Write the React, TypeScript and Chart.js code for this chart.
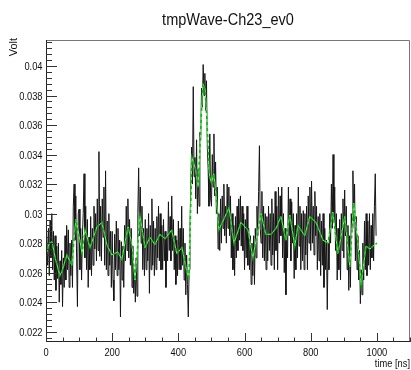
import React, { useEffect, useRef } from "react";
import { Chart, registerables } from "chart.js";

Chart.register(...registerables);

const chartTitle = "tmpWave-Ch23_ev0";
const xAxisTitle = "time [ns]";
const yAxisTitle = "Volt";

const xMin = 0;
const xMax = 1100;
const yMin = 0.021302;
const yMax = 0.041761;

const xMajorTicks = [0, 200, 400, 600, 800, 1000];
const yMajorTicks = [0.022, 0.024, 0.026, 0.028, 0.03, 0.032, 0.034, 0.036, 0.038, 0.04];
const yTickLabels = ["0.022", "0.024", "0.026", "0.028", "0.03", "0.032", "0.034", "0.036", "0.038", "0.04"];

// digitizer sample clock: first sample time and spacing (ns)
const sampleStartNs = 0;
const sampleStepNs = 2.5;

// waveform samples (V), one row = 20 samples = 50 ns
const waveVolt = [
  0.0300, 0.0300, 0.0265, 0.0290, 0.0258, 0.0295, 0.0270, 0.0300, 0.0262, 0.0288, 0.0255, 0.0285, 0.0248, 0.0278, 0.0256, 0.0280, 0.0240, 0.0268, 0.0252, 0.0275,
  0.0237, 0.0270, 0.0250, 0.0285, 0.0255, 0.0292, 0.0262, 0.0289, 0.0250, 0.0280, 0.0258, 0.0282, 0.0250, 0.0305, 0.0320, 0.0282, 0.0312, 0.0270, 0.0237, 0.0300,
  0.0303, 0.0262, 0.0290, 0.0255, 0.0285, 0.0300, 0.0327, 0.0270, 0.0305, 0.0262, 0.0296, 0.0250, 0.0284, 0.0262, 0.0298, 0.0258, 0.0290, 0.0265, 0.0305, 0.0276,
  0.0300, 0.0268, 0.0310, 0.0275, 0.0342, 0.0271, 0.0305, 0.0268, 0.0310, 0.0284, 0.0318, 0.0265, 0.0329, 0.0262, 0.0295, 0.0258, 0.0300, 0.0265, 0.0288, 0.0250,
  0.0288, 0.0255, 0.0241, 0.0286, 0.0262, 0.0295, 0.0258, 0.0290, 0.0262, 0.0282, 0.0230, 0.0281, 0.0255, 0.0278, 0.0250, 0.0292, 0.0268, 0.0305, 0.0275, 0.0310,
  0.0270, 0.0296, 0.0265, 0.0290, 0.0250, 0.0278, 0.0246, 0.0262, 0.0240, 0.0270, 0.0244, 0.0300, 0.0331, 0.0285, 0.0318, 0.0280, 0.0305, 0.0262, 0.0290, 0.0258,
  0.0296, 0.0262, 0.0290, 0.0268, 0.0300, 0.0246, 0.0292, 0.0262, 0.0310, 0.0265, 0.0295, 0.0258, 0.0290, 0.0262, 0.0298, 0.0270, 0.0305, 0.0268, 0.0300, 0.0262,
  0.0292, 0.0262, 0.0296, 0.0268, 0.0288, 0.0250, 0.0285, 0.0268, 0.0308, 0.0275, 0.0298, 0.0268, 0.0312, 0.0275, 0.0296, 0.0262, 0.0285, 0.0252, 0.0282, 0.0258,
  0.0295, 0.0262, 0.0290, 0.0262, 0.0305, 0.0265, 0.0290, 0.0255, 0.0280, 0.0245, 0.0272, 0.0252, 0.0230, 0.0262, 0.0290, 0.0318, 0.0345, 0.0320, 0.0386, 0.0325,
  0.0338, 0.0310, 0.0350, 0.0300, 0.0330, 0.0305, 0.0355, 0.0350, 0.0385, 0.0372, 0.0401, 0.0380, 0.0395, 0.0370, 0.0390, 0.0345, 0.0330, 0.0305, 0.0354, 0.0310,
  0.0305, 0.0340, 0.0318, 0.0354, 0.0312, 0.0335, 0.0300, 0.0318, 0.0276, 0.0300, 0.0275, 0.0310, 0.0280, 0.0312, 0.0290, 0.0320, 0.0285, 0.0305, 0.0280, 0.0320,
  0.0290, 0.0318, 0.0285, 0.0312, 0.0270, 0.0300, 0.0262, 0.0292, 0.0258, 0.0298, 0.0270, 0.0305, 0.0275, 0.0310, 0.0282, 0.0312, 0.0278, 0.0305, 0.0275, 0.0300,
  0.0262, 0.0296, 0.0270, 0.0305, 0.0265, 0.0290, 0.0262, 0.0285, 0.0252, 0.0280, 0.0258, 0.0285, 0.0252, 0.0290, 0.0270, 0.0305, 0.0285, 0.0315, 0.0346, 0.0290,
  0.0280, 0.0315, 0.0270, 0.0305, 0.0268, 0.0300, 0.0262, 0.0298, 0.0268, 0.0305, 0.0275, 0.0300, 0.0265, 0.0310, 0.0272, 0.0300, 0.0262, 0.0315, 0.0275, 0.0305,
  0.0262, 0.0318, 0.0280, 0.0312, 0.0285, 0.0318, 0.0270, 0.0300, 0.0260, 0.0290, 0.0245, 0.0285, 0.0270, 0.0318, 0.0285, 0.0310, 0.0268, 0.0308, 0.0280, 0.0300,
  0.0256, 0.0292, 0.0262, 0.0300, 0.0270, 0.0318, 0.0278, 0.0305, 0.0262, 0.0300, 0.0268, 0.0302, 0.0262, 0.0300, 0.0272, 0.0305, 0.0262, 0.0312, 0.0280, 0.0318,
  0.0275, 0.0322, 0.0280, 0.0305, 0.0272, 0.0315, 0.0285, 0.0305, 0.0262, 0.0298, 0.0268, 0.0300, 0.0258, 0.0295, 0.0265, 0.0300, 0.0250, 0.0290, 0.0262, 0.0282,
  0.0235, 0.0280, 0.0262, 0.0300, 0.0280, 0.0320, 0.0290, 0.0340, 0.0295, 0.0318, 0.0275, 0.0300, 0.0255, 0.0290, 0.0262, 0.0296, 0.0255, 0.0300, 0.0275, 0.0310,
  0.0270, 0.0316, 0.0285, 0.0305, 0.0262, 0.0292, 0.0248, 0.0285, 0.0250, 0.0300, 0.0290, 0.0329, 0.0295, 0.0320, 0.0268, 0.0298, 0.0262, 0.0285, 0.0255, 0.0275,
  0.0239, 0.0262, 0.0245, 0.0280, 0.0255, 0.0295, 0.0262, 0.0300, 0.0258, 0.0295, 0.0265, 0.0300, 0.0262, 0.0292, 0.0270, 0.0300, 0.0268, 0.0305, 0.0327, 0.0285,
  0.0285,
];

// smoothed (running average) curve
const smoothTime = [
  0, 10, 18, 30, 42, 50, 63, 78, 90, 100, 109, 118, 133, 154, 169, 184, 199, 217, 229, 248,
  260, 269, 284, 299, 314, 329, 344, 360, 380, 395, 411, 426, 432, 441, 452, 460, 468, 474, 481, 487,
  494, 500, 507, 515, 522, 535, 553, 568, 589, 610, 625, 650, 664, 680, 695, 710, 725, 737, 752, 761,
  782, 797, 816, 837, 852, 867, 882, 903, 918, 930, 943, 952, 967, 979, 988, 1000,
];

const smoothVolt = [
  0.0272, 0.0280, 0.0281, 0.0268, 0.0258, 0.0262, 0.0272, 0.0265, 0.0296, 0.0285, 0.0273, 0.0289, 0.0277, 0.0291, 0.0294, 0.0279, 0.0272, 0.0274, 0.0269, 0.0291,
  0.0279, 0.0255, 0.0298, 0.0277, 0.0284, 0.0279, 0.0286, 0.0283, 0.0289, 0.0273, 0.0277, 0.0260, 0.0257, 0.0338, 0.0330, 0.0318, 0.0360, 0.0388, 0.0384, 0.0360,
  0.0325, 0.0321, 0.0327, 0.0310, 0.0289, 0.0295, 0.0304, 0.0280, 0.0294, 0.0289, 0.0270, 0.0300, 0.0286, 0.0286, 0.0290, 0.0298, 0.0282, 0.0299, 0.0278, 0.0292,
  0.0285, 0.0298, 0.0294, 0.0282, 0.0280, 0.0301, 0.0273, 0.0298, 0.0264, 0.0307, 0.0278, 0.0252, 0.0278, 0.0276, 0.0278, 0.0280,
];

const FONT = '"Liberation Sans", Arial, Helvetica, sans-serif';
const SQUASH = 0.87;

function drawText(
  ctx: CanvasRenderingContext2D,
  s: string,
  x: number,
  y: number,
  align: CanvasTextAlign,
  size: number,
  sx: number,
  rotate = 0
) {
  ctx.save();
  ctx.translate(x, y);
  if (rotate) ctx.rotate(rotate);
  ctx.scale(sx, 1);
  ctx.font = `${size}px ${FONT}`;
  ctx.textAlign = align;
  ctx.textBaseline = "alphabetic";
  ctx.fillStyle = "#111";
  ctx.fillText(s, 0, 0);
  ctx.restore();
}

const rootFramePlugin = {
  id: "rootFrame",
  afterDraw(chart: any) {
    const ctx: CanvasRenderingContext2D = chart.ctx;
    const { left, right, top, bottom } = chart.chartArea;
    const xs = chart.scales.x;
    const ys = chart.scales.y;
    ctx.save();
    ctx.lineWidth = 1;
    ctx.strokeStyle = "#777";
    ctx.beginPath();
    ctx.moveTo(left, top + 0.5);
    ctx.lineTo(right - 0.5, top + 0.5);
    ctx.lineTo(right - 0.5, bottom);
    ctx.stroke();
    ctx.strokeStyle = "#222";
    ctx.beginPath();
    ctx.moveTo(left + 0.5, top);
    ctx.lineTo(left + 0.5, bottom - 0.5);
    ctx.lineTo(right, bottom - 0.5);
    ctx.stroke();

    ctx.strokeStyle = "#333";
    ctx.beginPath();
    for (let v = xMin; v <= xMax; v += 50) {
      const px = Math.round(xs.getPixelForValue(v)) + 0.5;
      const major = xMajorTicks.includes(v);
      ctx.moveTo(px, bottom);
      ctx.lineTo(px, bottom - (major ? 9 : 4.5));
    }
    for (let i = 0; ; i++) {
      const v = 0.0216 + i * 0.0004;
      if (v > yMax) break;
      if (v < yMin) continue;
      const py = Math.round(ys.getPixelForValue(v)) + 0.5;
      const major = yMajorTicks.some((t) => Math.abs(t - v) < 1e-7);
      ctx.moveTo(left, py);
      ctx.lineTo(left + (major ? 11 : 6), py);
    }
    ctx.stroke();

    xMajorTicks.forEach((v) => {
      drawText(ctx, String(v), xs.getPixelForValue(v), 356, "center", 10.7, SQUASH);
    });
    yMajorTicks.forEach((v, i) => {
      drawText(ctx, yTickLabels[i], left - 3.5, ys.getPixelForValue(v) + 4, "right", 10.7, SQUASH);
    });

    drawText(ctx, chartTitle, (left + right) / 2, 25, "center", 16.7, SQUASH);
    drawText(ctx, xAxisTitle, right, 367, "right", 10.7, SQUASH);
    drawText(ctx, yAxisTitle, 17, top - 2, "right", 11.5, 0.95, -Math.PI / 2);
    ctx.restore();
  },
};

export default function App() {
  const ref = useRef<HTMLCanvasElement | null>(null);
  useEffect(() => {
    document.body.style.margin = "0";
    const canvas = ref.current!;
    const wave = waveVolt.map((v, i) => ({ x: sampleStartNs + i * sampleStepNs, y: v }));
    const smooth = smoothTime.map((t, i) => ({ x: t, y: smoothVolt[i] }));
    const chart = new Chart(canvas, {
      type: "line",
      data: {
        datasets: [
          { data: wave, borderColor: "#151515", borderWidth: 1, pointRadius: 0, tension: 0, order: 3 },
          { data: smooth, borderColor: "#80f080", borderWidth: 1, pointRadius: 0, tension: 0, order: 2 },
          { data: smooth, borderColor: "#00c000", borderWidth: 1.5, borderDash: [3, 3], pointRadius: 0, tension: 0, order: 1 },
        ],
      },
      options: {
        animation: false,
        responsive: false,
        devicePixelRatio: 1,
        layout: { padding: { left: 46, right: 1, top: 40, bottom: 28 } },
        plugins: { legend: { display: false }, tooltip: { enabled: false }, title: { display: false } },
        events: [],
        scales: {
          x: { type: "linear", min: xMin, max: xMax, display: false },
          y: { type: "linear", min: yMin, max: yMax, display: false },
        },
      },
      plugins: [rootFramePlugin],
    });
    return () => chart.destroy();
  }, []);
  return (
    <div style={{ position: "absolute", left: 0, top: 0, width: 411, height: 370, background: "#fff" }}>
      <canvas ref={ref} width={411} height={370} style={{ display: "block" }} />
    </div>
  );
}
